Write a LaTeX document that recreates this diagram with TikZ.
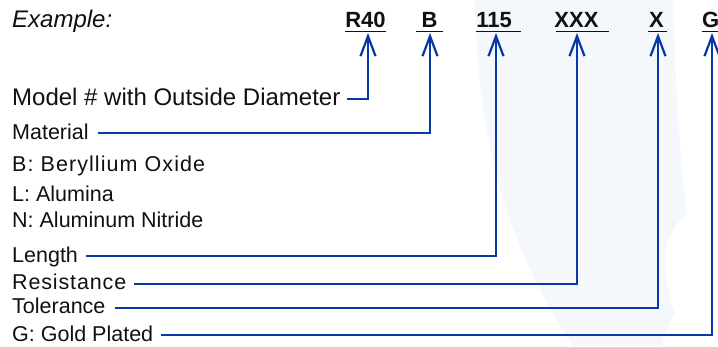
\documentclass[tikz,border=0pt]{standalone}
\usepackage{fontspec}
\setmainfont{Liberation Sans}
\usetikzlibrary{arrows.meta}
\definecolor{lblue}{RGB}{8,56,166}
\definecolor{wm}{RGB}{244,247,251}
\definecolor{ink}{RGB}{17,17,17}
\begin{document}
\begin{tikzpicture}[x=1pt,y=-1pt,
  lbl/.style={anchor=base west,inner sep=0pt,text=ink,font=\fontsize{21.5}{24}\selectfont},
  big/.style={lbl,font=\fontsize{24}{28}\selectfont},
  code/.style={anchor=base,inner sep=0pt,text=ink,font=\fontsize{22}{26}\selectfont\bfseries},
  conn/.style={draw=lblue,line width=2.2pt,-{Straight Barb[length=20pt,width=15pt]}},
  uline/.style={draw=ink,line width=1.5pt}]
\clip (0,0) rectangle (718,346);
\fill[white] (0,0) rectangle (718,346);
% watermark
\fill[wm] (475,0) -- (673,0) .. controls (675,80) and (680,170) .. (687,213)
  .. controls (670,228) and (663,248) .. (665,265)
  .. controls (666,285) and (670,300) .. (675,313)
  .. controls (668,325) and (664,335) .. (662,346) -- (573,346)
  .. controls (510,250) and (478,150) .. (475,0) -- cycle;
% codes
\node[code] (cR) at (365.5,27) {R40};
\node[code] (cB) at (429.5,27) {B};
\node[code] (c115) at (494,27) {115};
\node[code] (cXXX) at (576.5,27) {XXX};
\node[code] (cX) at (656.5,27) {X};
\node[code,anchor=base west] (cG) at (702,27) {G};
% underlines
\draw[uline] ([yshift=-4.7pt]cR.base west) -- ([yshift=-4.7pt]cR.base east);
\draw[uline] ([xshift=-5pt,yshift=-4.7pt]cB.base west) -- ([xshift=5pt,yshift=-4.7pt]cB.base east);
\draw[uline] ([yshift=-4.7pt]c115.base west) -- ([xshift=9pt,yshift=-4.7pt]c115.base east);
\draw[uline] ([xshift=2pt,yshift=-4.7pt]cXXX.base west) -- ([xshift=10pt,yshift=-4.7pt]cXXX.base east);
\draw[uline] ([xshift=-1pt,yshift=-4.7pt]cX.base west) -- ([xshift=3pt,yshift=-4.7pt]cX.base east);
\draw[uline] ([yshift=-4.7pt]cG.base west) -- ([xshift=10pt,yshift=-4.7pt]cG.base east);
% arrow tips
\coordinate (tR) at (368,33);
\coordinate (tB) at (430,33);
\coordinate (t115) at (496,33);
\coordinate (tXXX) at (577,33);
\coordinate (tX) at (658,33);
\coordinate (tG) at (712,33);
% labels
\node[big] (ex) at (12,27) {\itshape Example:};
\node[big] (model) at (12,105) {Model \# with Outside Diameter};
\node[lbl] (mat) at (12,139.3) {Material};
\node[lbl] (beo) at (12,171) {\addfontfeature{LetterSpace=5}B: Beryllium Oxide};
\node[lbl] (alu) at (12,201.7) {L: Alumina};
\node[lbl] (aln) at (12,227.7) {N: Aluminum Nitride};
\node[lbl] (len) at (12,262.7) {Length};
\node[lbl] (res) at (12,289) {\addfontfeature{LetterSpace=4}Resistance};
\node[lbl] (tol) at (12,313.3) {Tolerance};
\node[lbl] (gold) at (12,341.7) {G: Gold Plated};
% connectors
\draw[conn] ([xshift=6pt,yshift=6pt]model.base east) -| (tR);
\draw[conn] ([xshift=9pt,yshift=6pt]mat.base east) -| (tB);
\draw[conn] ([xshift=8pt,yshift=6.7pt]len.base east) -| (t115);
\draw[conn] ([xshift=8pt,yshift=5pt]res.base east) -| (tXXX);
\draw[conn] ([xshift=9pt,yshift=5pt]tol.base east) -| (tX);
\draw[conn] ([xshift=8pt,yshift=6.7pt]gold.base east) -| (tG);
\end{tikzpicture}
\end{document}
